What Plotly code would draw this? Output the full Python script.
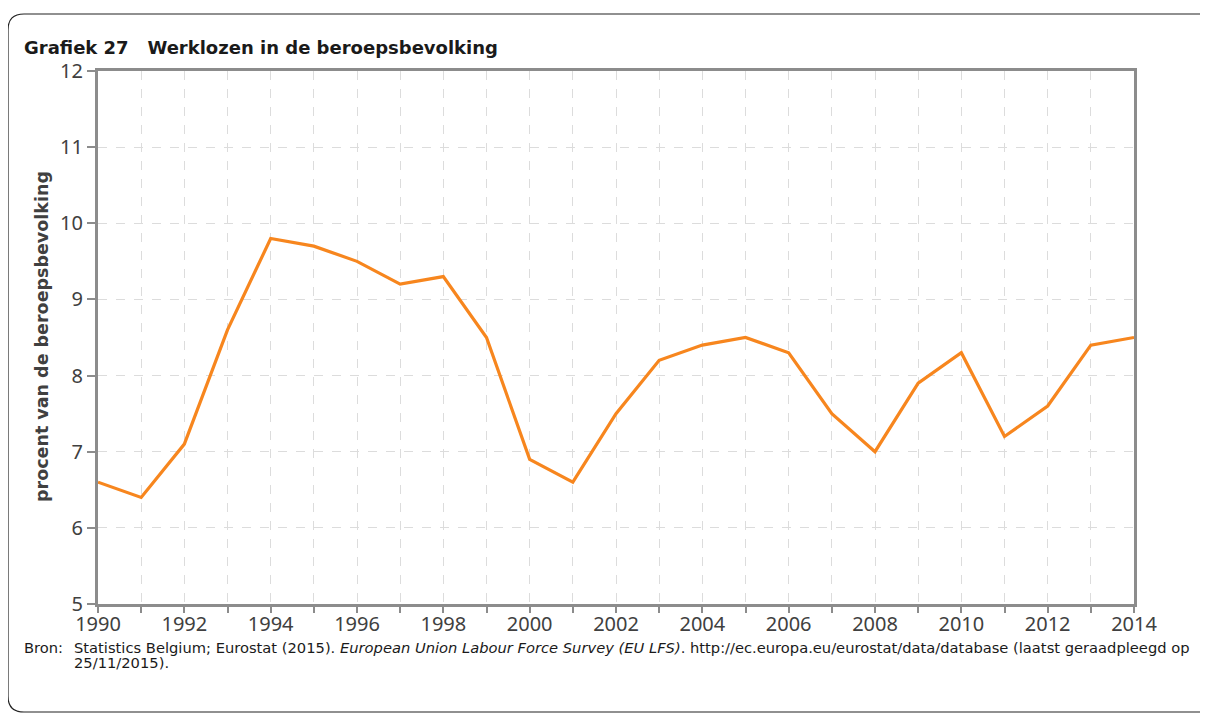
import plotly.graph_objects as go

years = list(range(1990, 2015))
werkloosheid = [6.6, 6.4, 7.1, 8.6, 9.8, 9.7, 9.5, 9.2, 9.3, 8.5, 6.9, 6.6, 7.5,
                8.2, 8.4, 8.5, 8.3, 7.5, 7.0, 7.9, 8.3, 7.2, 7.6, 8.4, 8.5]
tick_labels = [str(y) if y % 2 == 0 else "" for y in years]
y_ticks = [5, 6, 7, 8, 9, 10, 11, 12]

# page offset of the figure (default body margin)
OFF = 8
W, H = 1200, 709
# plot area in page pixels
L, R, T, B = 98, 1134, 71, 604


def px(x):
    return (x - L) / (R - L)


def py(y):
    return (B - y) / (B - T)


fig = go.Figure()
fig.add_trace(go.Scatter(
    x=years, y=werkloosheid, mode="lines",
    line=dict(color="#F7861E", width=3.2),
    hoverinfo="x+y", showlegend=False,
))

axis_common = dict(
    showline=True, linecolor="#8C8C8C", linewidth=3, mirror=True,
    gridcolor="#DCDCDC", griddash="dash", gridwidth=1,
    ticks="outside", tickcolor="#8C8C8C", tickwidth=2,
    tickfont=dict(family="Noto Sans", size=20, color="#404040"),
    zeroline=False,
)

fig.update_layout(
    width=W, height=H,
    margin=dict(l=L - OFF, r=W - (R - OFF), t=T - OFF, b=H - (B - OFF), pad=0),
    paper_bgcolor="white", plot_bgcolor="white",
    xaxis=dict(range=[1990, 2014], tickvals=years, ticktext=tick_labels,
               ticklen=6, ticklabelstandoff=-6, **axis_common),
    yaxis=dict(range=[5, 12], tickvals=y_ticks, ticklen=8, **axis_common),
)

# frame (open to the right, as in the reference)
lft, top, rgt, bot = px(8), py(14), px(1207), py(712)
dx, dy = 16 / (R - L), 16 / (B - T)
path = (f"M {rgt},{top} L {lft + dx},{top} Q {lft},{top} {lft},{top - dy} "
        f"L {lft},{bot + dy} Q {lft},{bot} {lft + dx},{bot} L {rgt},{bot}")
fig.add_shape(type="path", path=path, xref="paper", yref="paper",
              line=dict(color="#222222", width=1.2), layer="below")

fig.add_annotation(
    x=px(22), y=py(47), xref="paper", yref="paper", xanchor="left", yanchor="middle",
    text="<b>Grafiek 27   Werklozen in de beroepsbevolking</b>", showarrow=False,
    font=dict(family="DejaVu Sans", size=18, color="#1A1A1A"),
)
fig.add_annotation(
    x=px(42), y=py(337), xref="paper", yref="paper", xanchor="center", yanchor="middle",
    text="<b>procent van de beroepsbevolking</b>", textangle=-90, showarrow=False,
    font=dict(family="DejaVu Sans", size=17.5, color="#404040"),
)
src_font = dict(family="DejaVu Sans", size=14.7, color="#1A1A1A")
fig.add_annotation(
    x=px(22), y=py(647), xref="paper", yref="paper", xanchor="left", yanchor="middle",
    text="Bron:", showarrow=False, font=src_font,
)
fig.add_annotation(
    x=px(72), y=py(647), xref="paper", yref="paper", xanchor="left", yanchor="middle",
    text=("Statistics Belgium; Eurostat (2015). <i>European Union Labour Force Survey (EU LFS)</i>. "
          "http://ec.europa.eu/eurostat/data/database (laatst geraadpleegd op"),
    showarrow=False, font=src_font,
)
fig.add_annotation(
    x=px(72), y=py(662), xref="paper", yref="paper", xanchor="left", yanchor="middle",
    text="25/11/2015).", showarrow=False, font=src_font,
)

fig.write_html("out.html")
